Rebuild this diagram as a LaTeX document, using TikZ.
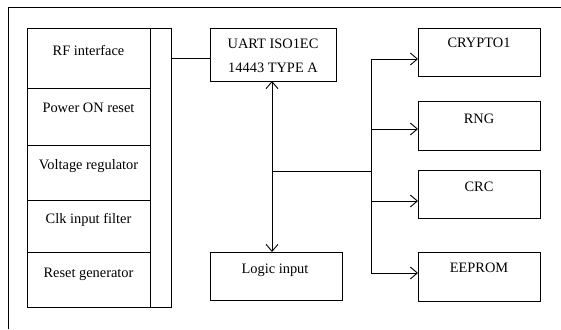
\documentclass[tikz,border=0pt]{standalone}
\usepackage{fontspec}
\setmainfont{Liberation Serif}
\usetikzlibrary{arrows.meta}
\tikzset{
  blk/.style={draw, line width=1pt, inner sep=0pt},
  txt/.style={font=\fontsize{14.4}{24}\selectfont, inner sep=0pt, anchor=base, align=center},
  link/.style={line width=0.9pt},
  tip/.style={-{Straight Barb[length=7pt,width=12pt]}},
  dtip/.style={{Straight Barb[length=7pt,width=12pt]}-{Straight Barb[length=7pt,width=12pt]}}
}
\begin{document}
\begin{tikzpicture}[x=1pt,y=-1pt]
\path[use as bounding box] (0,0) rectangle (561,329);
% cut frame
\draw[line width=0.9pt] (8,329) -- (8,7) -- (561,7);
% left stack
\node[blk, minimum width=144, minimum height=279, anchor=north west] (col) at (27,28) {};
\node[blk, minimum width=123, minimum height=60, anchor=north west] (rf) at (27,28) {};
\node[blk, minimum width=123, minimum height=57, anchor=north west] (pwr) at (27,88) {};
\node[blk, minimum width=123, minimum height=55, anchor=north west] (volt) at (27,145) {};
\node[blk, minimum width=123, minimum height=52, anchor=north west] (clk) at (27,200) {};
\node[blk, minimum width=123, minimum height=55, anchor=north west] (rst) at (27,252) {};
\node[txt] (rftxt) at (88.5,56) {RF interface};
\node[txt] (pwrtxt) at (88.5,112) {Power ON reset};
\node[txt] (volttxt) at (88.5,169) {Voltage regulator};
\node[txt] (clktxt) at (88.5,223) {Clk input filter};
\node[txt] (rsttxt) at (88.5,277) {Reset generator};
% middle
\node[blk, minimum width=126, minimum height=53, anchor=north west] (uart) at (210,28) {};
\node[txt] (uarttxt) at (273,72) {UART ISO1EC\\14443 TYPE A};
\node[blk, minimum width=132, minimum height=48, anchor=north west] (logic) at (210,252) {};
\node[txt] (logictxt) at (275,273) {Logic input};
% right
\node[blk, minimum width=122, minimum height=48, anchor=north west] (crypto) at (418,28) {};
\node[blk, minimum width=122, minimum height=49, anchor=north west] (rng) at (418,101) {};
\node[blk, minimum width=122, minimum height=48, anchor=north west] (crc) at (418,170) {};
\node[blk, minimum width=122, minimum height=49, anchor=north west] (eeprom) at (418,252) {};
\node[txt] (cryptotxt) at (479,48) {CRYPTO1};
\node[txt] (rngtxt) at (479,123) {RNG};
\node[txt] (crctxt) at (479,191) {CRC};
\node[txt] (eepromtxt) at (479,272) {EEPROM};
% connectors
\draw[link] (rf -| col.east) -- (rf -| uart.west);
\coordinate (v1) at (272,81);
\draw[link, dtip] (v1) -- (v1 |- logic.north);
\coordinate (j) at (272,171);
\coordinate (b1) at (371,59);
\coordinate (b2) at (371,129);
\coordinate (b3) at (371,201);
\coordinate (b4) at (371,273);
\draw[link] (j) -- (j -| b1);
\draw[link] (b1) -- (b4);
\draw[link, tip] (b1) -- (b1 -| crypto.west);
\draw[link, tip] (b2) -- (b2 -| rng.west);
\draw[link, tip] (b3) -- (b3 -| crc.west);
\draw[link, tip] (b4) -- (b4 -| eeprom.west);
\end{tikzpicture}
\end{document}
